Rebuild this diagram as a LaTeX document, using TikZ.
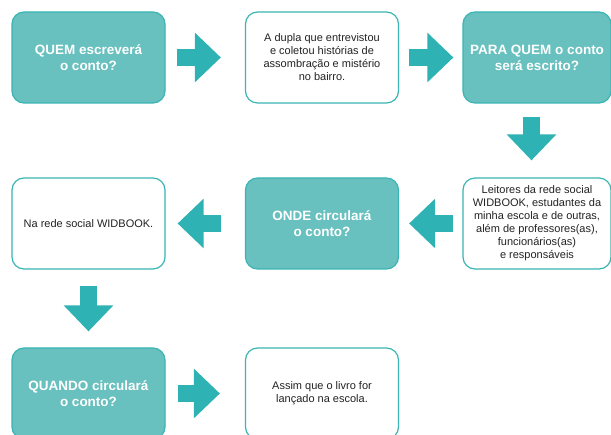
\documentclass[tikz,border=0pt]{standalone}
\usepackage{fontspec}
\setmainfont{Liberation Sans}
\usetikzlibrary{arrows.meta}
\definecolor{tealfill}{RGB}{104,192,191}
\definecolor{tealedge}{RGB}{58,180,180}
\definecolor{tealarrow}{RGB}{46,178,179}
\definecolor{inkgray}{RGB}{35,35,35}
\tikzset{
  box/.style={rectangle, rounded corners=12pt, line width=1.2pt, draw=tealedge,
    minimum width=153pt, minimum height=91pt, align=center, inner sep=2pt},
  ask/.style={box, fill=tealfill, text=white,
    font=\fontsize{13.5}{16}\selectfont\bfseries},
  answer/.style={box, fill=white, text=inkgray,
    font=\fontsize{11}{13}\selectfont},
  flow/.style={draw=tealarrow, line width=17pt,
    -{Triangle[length=26pt,width=48pt,fill=tealarrow]}}
}
\begin{document}
\begin{tikzpicture}[x=1pt,y=1pt]
\useasboundingbox (0,0) rectangle (611,-435);
% first row
\node[ask] (quem) at (88.5,-57.5) {QUEM escreverá\\o conto?};
\node[answer] (dupla) at (322,-57.5) {A dupla que entrevistou\\e coletou histórias de\\assombração e mistério\\no bairro.};
\node[ask, minimum width=148pt] (paraquem) at (537,-57.5) {PARA QUEM o conto\\será escrito?};
% second row
\node[answer] (rede) at (88.5,-223.5) {Na rede social WIDBOOK.};
\node[ask] (onde) at (322,-223.5) {ONDE circulará\\o conto?};
\node[answer, minimum width=148pt] (leitores) at (537,-223.5) {Leitores da rede social\\WIDBOOK, estudantes da\\minha escola e de outras,\\além de professores(as),\\funcionários(as)\\e responsáveis};
% third row
\node[ask] (quando) at (88.5,-393.5) {QUANDO circulará\\o conto?};
\node[answer] (livro) at (322,-393.5) {Assim que o livro for\\lançado na escola.};
% arrows
\draw[flow] ([xshift=11pt]quem.east) -- ([xshift=-24pt]dupla.west);
\draw[flow] ([xshift=10pt]dupla.east) -- ([xshift=-9pt]paraquem.west);
\draw[flow] ([xshift=-5.5pt,yshift=-13pt]paraquem.south) -- ([xshift=-5.5pt,yshift=17pt]leitores.north);
\draw[flow] ([xshift=-9pt]leitores.west) -- ([xshift=10pt]onde.east);
\draw[flow] ([xshift=-24pt]onde.west) -- ([xshift=12pt]rede.east);
\draw[flow] ([yshift=-16pt]rede.south) -- ([yshift=16pt]quando.north);
\draw[flow] ([xshift=12pt]quando.east) -- ([xshift=-25pt]livro.west);
\end{tikzpicture}
\end{document}
